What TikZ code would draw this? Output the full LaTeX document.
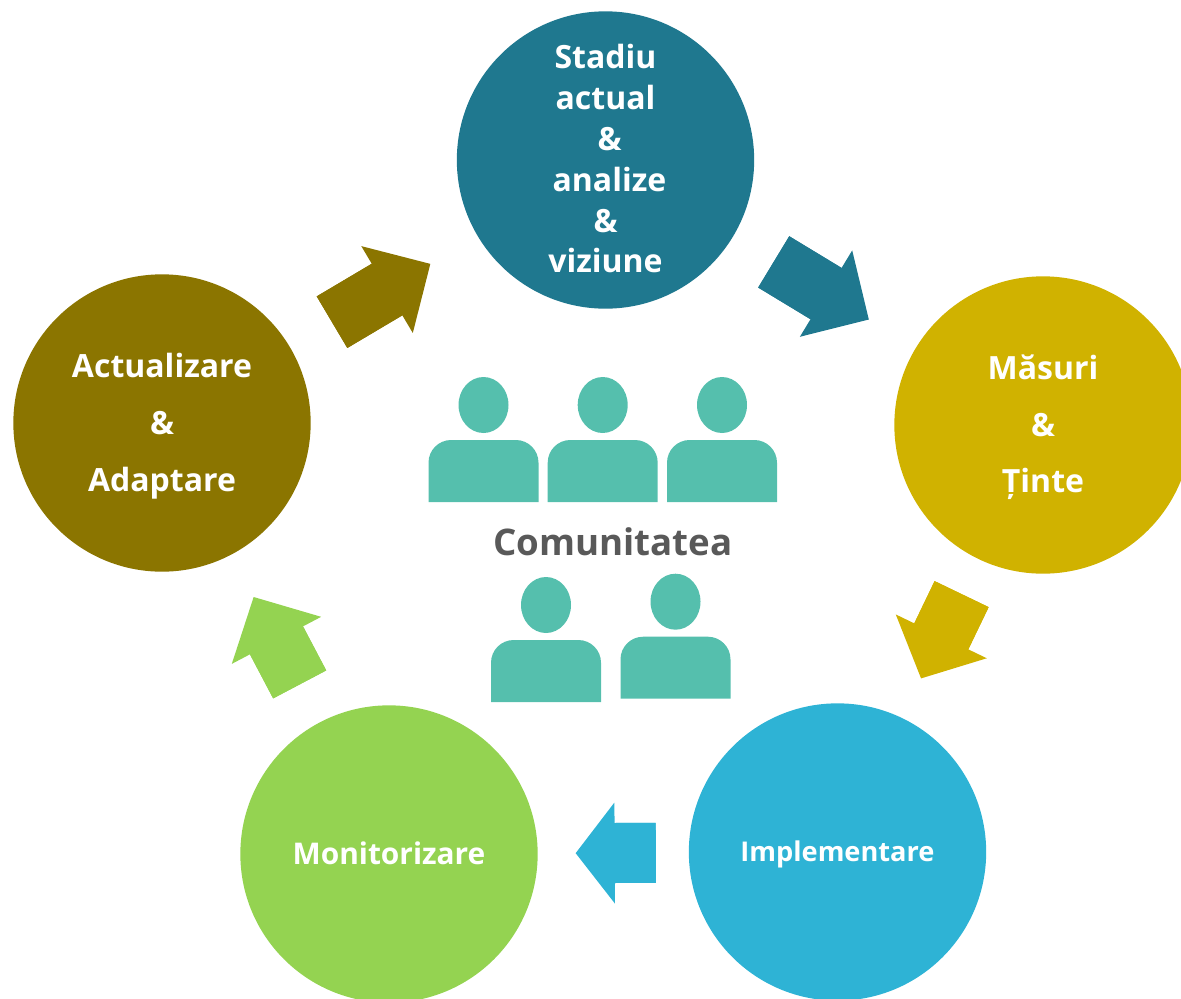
\documentclass[tikz,border=0pt]{standalone}
\usepackage{fontspec}
\setmainfont{Open Sans}
\usetikzlibrary{arrows.meta}
\definecolor{petrol}{HTML}{1F788F}
\definecolor{mustar}{HTML}{D0B200}
\definecolor{cer}{HTML}{2EB3D5}
\definecolor{verde}{HTML}{94D351}
\definecolor{maro}{HTML}{8B7500}
\definecolor{turcoaz}{HTML}{55BFAD}
\definecolor{gri}{HTML}{595959}
\tikzset{
  etapa/.style={circle, fill=#1, minimum size=223pt, inner sep=0pt, outer sep=0pt,
    text=white, align=center, font=\bfseries\fontsize{24}{30.6}\selectfont},
  rar/.style={font=\bfseries\fontsize{24}{42.4}\selectfont},
  sageata/.style n args={4}{draw=#1, line width=45pt, shorten <=#2, shorten >=#3,
    -{Triangle[length=#4, width=75.75pt, line width=0pt]},
    postaction={draw=#1, -, shorten >=#3+#4-1pt}},
  persoana/.style={fill=turcoaz}
}
\newcommand{\Sus}[1]{\rule{0pt}{#1}}
\newcommand{\Jos}[1]{\rule[-#1]{0pt}{#1}}
\newcommand{\Persoana}[2]{
\fill[persoana] (#1,#2) ellipse [x radius=25, y radius=28];
\fill[persoana] (#1-55,#2+97) [rounded corners=17pt] -- (#1-55,#2+35) -- (#1+55,#2+35) [sharp corners] -- (#1+55,#2+97) -- cycle;
}
\begin{document}
\begin{tikzpicture}[x=.75pt, y=-.75pt]
\useasboundingbox (0,0) rectangle (1181,999);
\clip (0,0) rectangle (1181,999);
\node[etapa=petrol] (stadiu) at (605.5,160) {Stadiu\\actual\\\hspace*{6pt}\&\\\hspace*{6pt}analize\\\&\\viziune\Jos{2pt}};
\node[etapa=mustar, rar] (masuri) at (1043,425) {\Sus{22pt}Măsuri\\\&\\Ținte};
\node[etapa=cer, font=\bfseries\fontsize{20.4}{26}\selectfont] (implementare) at (837.5,852) {\Sus{18.5pt}Implementare};
\node[etapa=verde, font=\bfseries\fontsize{22.4}{26}\selectfont] (monitorizare) at (389,854) {Monitorizare\Jos{1.5pt}};
\node[etapa=maro, rar] (actualizare) at (162,423) {\Sus{23pt}Actualizare\\\&\\Adaptare};
\draw[sageata={petrol}{36pt}{41.25pt}{37.5pt}] (stadiu) -- (masuri);
\draw[sageata={mustar}{29.25pt}{33pt}{35pt}] (masuri) -- (implementare);
\draw[sageata={cer}{24.75pt}{28.5pt}{29.25pt}] (implementare) -- (monitorizare);
\draw[sageata={verde}{32.25pt}{36pt}{36.75pt}] (monitorizare) -- (actualizare);
\draw[sageata={maro}{36.75pt}{41.25pt}{37.75pt}] (actualizare) -- (stadiu);
\Persoana{483.5}{405}
\Persoana{602.7}{405}
\Persoana{722}{405}
\Persoana{546}{605}
\Persoana{675.5}{601.7}
\node[text=gri, font=\bfseries\fontsize{27.5}{36}\selectfont] (comunitatea) at (613,542) {Comunitatea};
\end{tikzpicture}
\end{document}
